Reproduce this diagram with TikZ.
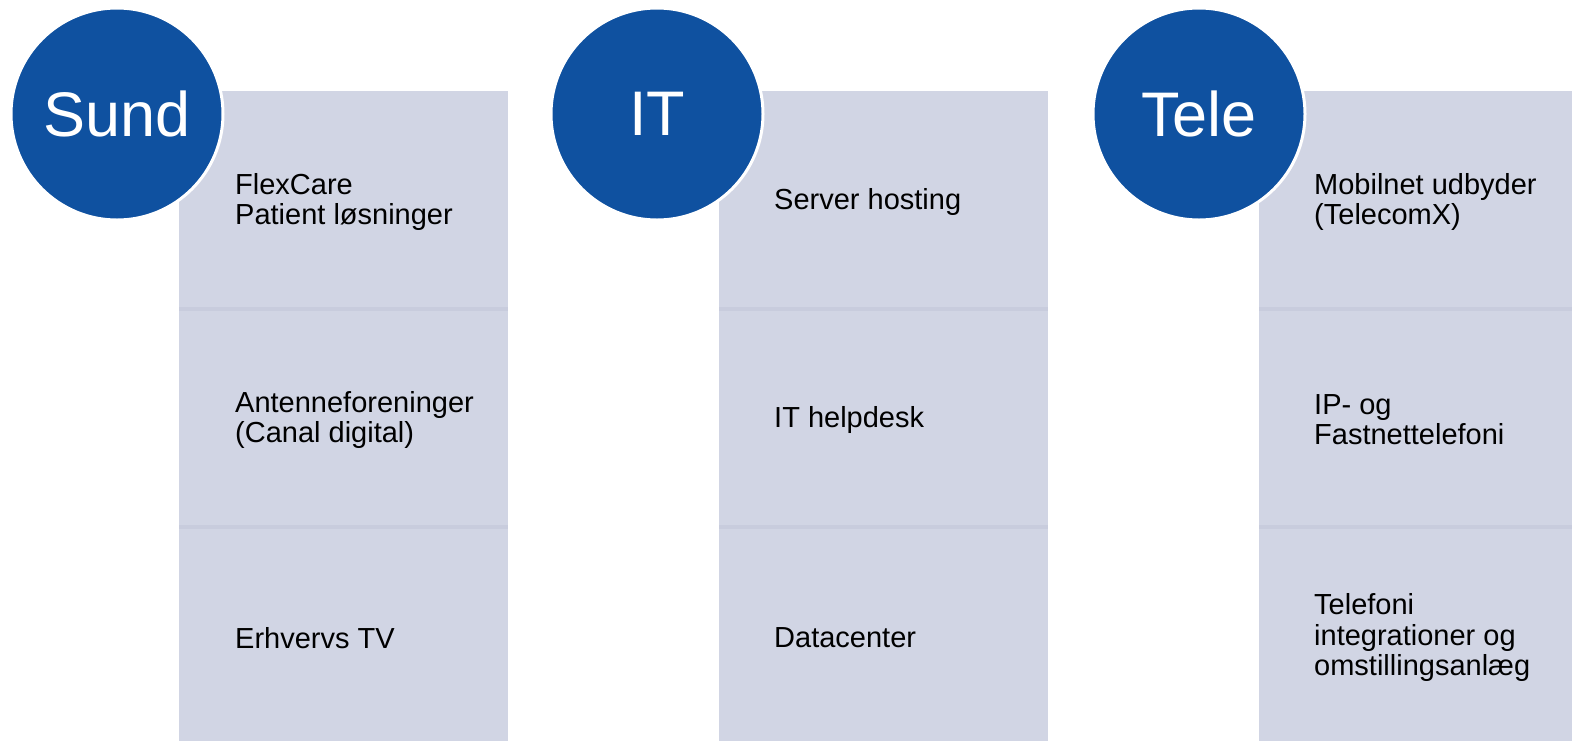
\documentclass[tikz,border=0pt]{standalone}
\usepackage{fontspec}
\setmainfont{Liberation Sans}
\usetikzlibrary{positioning}

\definecolor{discblue}{RGB}{15,81,160}
\definecolor{cellgray}{RGB}{209,213,228}
\definecolor{sepgray}{RGB}{200,204,221}

\tikzset{
  disc/.style={circle,fill=discblue,draw=white,line width=3pt,minimum size=212pt,inner sep=0pt,text=white,font=\fontsize{63}{63}\selectfont},
  cell/.style={rectangle,fill=cellgray,minimum width=329pt,minimum height=217.5pt,inner sep=0pt,anchor=north west},
  item/.style={align=left,inner sep=0pt,yshift=-2pt,font=\fontsize{29}{30.5}\selectfont},
  sepline/.style={sepgray,line width=3.5pt},
}

\begin{document}
\begin{tikzpicture}[x=1pt,y=-1pt]
  \useasboundingbox (0,0) rectangle (1572,740);
  % Sund
  \node[cell] (sund1) at (179,91) {};
  \node[cell,below=0pt of sund1] (sund2) {};
  \node[cell,below=0pt of sund2] (sund3) {};
  \draw[sepline] (sund1.south west) -- (sund1.south east);
  \draw[sepline] (sund2.south west) -- (sund2.south east);
  \node[item,right=56pt of sund1.west] (flex) {FlexCare\\Patient løsninger};
  \node[item,right=56pt of sund2.west] (antenne) {Antenneforeninger\\(Canal digital)};
  \node[item,right=56pt of sund3.west] (erhverv) {Erhvervs TV};
  \node[disc] (sund) at (117,114) {Sund};
  % IT
  \node[cell] (it1) at (719,91) {};
  \node[cell,below=0pt of it1] (it2) {};
  \node[cell,below=0pt of it2] (it3) {};
  \draw[sepline] (it1.south west) -- (it1.south east);
  \draw[sepline] (it2.south west) -- (it2.south east);
  \node[item,right=55pt of it1.west] (hosting) {Server hosting};
  \node[item,right=55pt of it2.west] (helpdesk) {IT helpdesk};
  \node[item,right=55pt of it3.west] (datacenter) {Datacenter};
  \node[disc] (it) at (657,114) {IT};
  % Tele
  \node[cell] (tele1) at (1259,91) {};
  \node[cell,below=0pt of tele1] (tele2) {};
  \node[cell,below=0pt of tele2] (tele3) {};
  \draw[sepline] (tele1.south west) -- (tele1.south east);
  \draw[sepline] (tele2.south west) -- (tele2.south east);
  \node[item,right=55pt of tele1.west] (mobil) {Mobilnet udbyder\\(TelecomX)};
  \node[item,right=55pt of tele2.west] (ip) {IP- og\\Fastnettelefoni};
  \node[item,right=55pt of tele3.west] (omstil) {Telefoni\\integrationer og\\omstillingsanlæg};
  \node[disc] (tele) at (1199,114) {Tele};
\end{tikzpicture}
\end{document}
